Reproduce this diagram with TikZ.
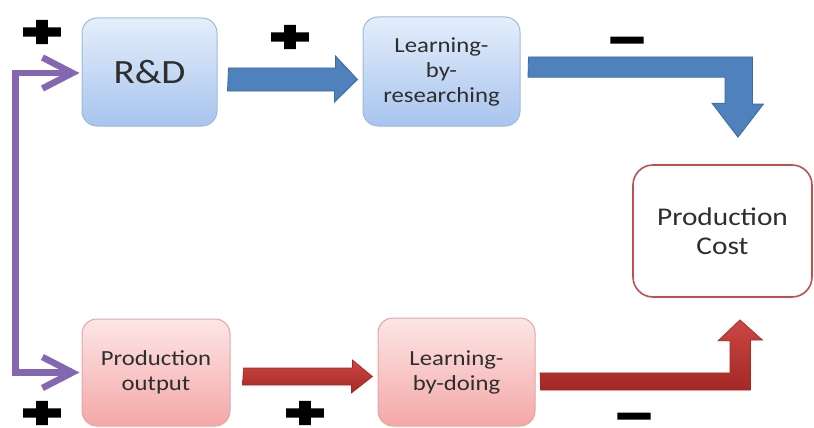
\documentclass[tikz,border=0pt]{standalone}
\usepackage{fontspec}
\setmainfont[FakeStretch=1.15]{Carlito}
\newfontfamily\signfont[FakeStretch=2.1,FakeBold=20]{DejaVu Sans Bold}
\newfontfamily\plusfont[FakeStretch=1.75,FakeBold=20]{DejaVu Sans Bold}
\usetikzlibrary{arrows.meta,calc}

\definecolor{bluetop}{HTML}{E5EEFB}
\definecolor{bluebot}{HTML}{A8C4EE}
\definecolor{blueline}{HTML}{9FB9DB}
\definecolor{pinktop}{HTML}{FDE6E6}
\definecolor{pinkbot}{HTML}{F4A7A7}
\definecolor{pinkline}{HTML}{E3A5A5}
\definecolor{costline}{HTML}{C0504D}
\definecolor{arrowblue}{HTML}{4F81BD}
\definecolor{arrowblueline}{HTML}{3D6A9F}
\definecolor{arrowredtop}{HTML}{CC4743}
\definecolor{arrowredbot}{HTML}{A32825}
\definecolor{loopviolet}{HTML}{8467B0}
\definecolor{labeltext}{HTML}{2E2E2E}

\tikzset{
  box/.style={rounded corners=15pt, inner sep=0pt, align=center,
    text=labeltext, font=\fontsize{21.5}{25}\selectfont},
  bluebox/.style={box, draw=blueline, line width=1pt,
    top color=bluetop, bottom color=bluebot},
  pinkbox/.style={box, draw=pinkline, line width=1pt,
    top color=pinktop, bottom color=pinkbot},
  costbox/.style={box, draw=costline, line width=1.6pt, fill=white,
    rounded corners=20pt, font=\fontsize{25.5}{29}\selectfont},
  bluearrow/.style={fill=arrowblue, draw=arrowblueline, line width=0.8pt,
    line join=miter},
  redarrow/.style={top color=arrowredtop, bottom color=arrowredbot,
    draw=arrowredbot, line width=0.6pt, line join=miter},
  feedback/.style={draw=loopviolet, line width=6.5pt, line join=miter,
    {Straight Barb[length=30pt,width=31pt]}-{Straight Barb[length=30pt,width=31pt]}},
  plussign/.style={inner sep=3pt, text=black,
    font=\plusfont\fontsize{29}{29}\selectfont},
  minussign/.style={inner sep=3pt, text=black,
    font=\signfont\fontsize{22}{22}\selectfont}
}

\begin{document}
\begin{tikzpicture}[x=1pt,y=-1pt]
\useasboundingbox (0,0) rectangle (814,428);

% boxes
\node[bluebox, minimum width=135pt, minimum height=108pt,
      font=\fontsize{34}{38}\selectfont] (rd) at (149.5,72) {R\&D};
\node[bluebox, minimum width=157pt, minimum height=109pt] (lbr) at (441.5,71.5)
  {Learning-\\by-\\researching};
\node[costbox, minimum width=179pt, minimum height=132pt] (pc) at (722.5,231)
  {Production\\Cost};
\node[pinkbox, minimum width=148pt, minimum height=107pt] (po) at (156,372.5)
  {Production\\output};
\node[pinkbox, minimum width=157pt, minimum height=108pt] (lbd) at (456.5,372)
  {Learning-\\by-doing};

% ends of the block arrows
\coordinate (rdOut)  at ([xshift=11pt,yshift=-7.5pt]rd.east);
\coordinate (lbrIn)  at ([xshift=-5pt,yshift=-8pt]lbr.west);
\coordinate (lbrOut) at ([xshift=8pt,yshift=4pt]lbr.east);
\coordinate (pcTop)  at ([xshift=15.5pt,yshift=27pt]pc.north);
\coordinate (poOut)  at ([xshift=13pt,yshift=-4pt]po.east);
\coordinate (lbdIn)  at ([xshift=-5pt,yshift=-4.5pt]lbd.west);
\coordinate (lbdOut) at ([xshift=5pt,yshift=-9pt]lbd.east);
\coordinate (pcBot)  at ([xshift=17.5pt,yshift=-22pt]pc.south);

% R&D -> learning-by-researching
\draw[bluearrow] (rdOut) ++(0,-11.5) -- ++(107,0) -- ++(0,-12) -- (lbrIn)
  -- ++(-23,22.5) -- ++(0,-11) -- ++(-107,0) -- cycle;

% learning-by-researching -> production cost
\draw[bluearrow] (lbrOut) ++(0,-10.5) -- ++(224,0) -- ++(0,47) -- ++(11,0)
  -- (pcTop) -- ++(-26,-34) -- ++(13,0) -- ++(0,-26) -- ++(-197,0) -- cycle;

% production output -> learning-by-doing
\draw[redarrow] (poOut) ++(0,-8.5) -- ++(109,0) -- ++(0,-8) -- (lbdIn)
  -- ++(-21,16.5) -- ++(0,-8) -- ++(-109,0) -- cycle;

% learning-by-doing -> production cost
\draw[redarrow] (lbdOut) ++(0,9) -- ++(210,0) -- ++(0,-50) -- ++(12,0)
  -- (pcBot) -- ++(-22,21) -- ++(12,0) -- ++(0,32) -- ++(-190,0) -- cycle;

% feedback between production output and R&D
\draw[feedback] ([xshift=-2pt]po.west) -- ++(-64,0)
  |- ([xshift=-2pt,yshift=-1pt]rd.west);

% signs of the effects
\node[plussign] (s1) at (42,32) {+};
\node[plussign] (s2) at (290,37) {+};
\node[plussign] (s3) at (42,413) {+};
\node[plussign] (s4) at (305,413) {+};
\node[minussign] (s5) at (627,43) {−};
\node[minussign] (s6) at (634,419) {−};
\end{tikzpicture}
\end{document}
